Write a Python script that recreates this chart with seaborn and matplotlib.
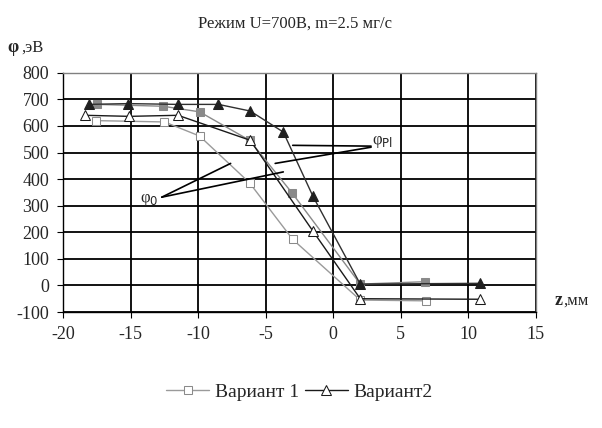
import pandas as pd
import matplotlib
matplotlib.use("Agg")
import matplotlib.pyplot as plt
import seaborn as sns

# values (z in mm, potential in eV)
v1_phi0_z = [-17.6, -12.5, -9.9, -6.2, -3.0, 2.0, 6.9]
v1_phi0 = [620, 615, 562, 386, 173, -55, -58]

v1_phipl_z = [-17.5, -12.6, -9.9, -6.2, -3.05, 2.0, 6.8]
v1_phipl = [681, 674, 653, 546, 348, 5, 14]

v2_phi0_z = [-18.4, -15.1, -11.5, -6.15, -1.5, 2.0, 10.9]
v2_phi0 = [640, 636, 640, 546, 204, -50, -52]

v2_phipl_z = [-18.1, -15.2, -11.5, -8.5, -6.15, -3.7, -1.5, 2.0, 10.9]
v2_phipl = [681, 684, 681, 681, 656, 577, 335, 5, 8]

x_ticks = [-20, -15, -10, -5, 0, 5, 10, 15]
y_ticks = [-100, 0, 100, 200, 300, 400, 500, 600, 700, 800]

sns.set_style("white")
plt.rcParams["font.family"] = ["Liberation Serif", "DejaVu Serif"]
plt.rcParams["axes.unicode_minus"] = False

fig = plt.figure(figsize=(6.02, 4.28), dpi=100)
ax = fig.add_axes([0.105, 0.271, 0.785, 0.559])

# Variant 1, plasma potential (filled grey squares)
sns.lineplot(x=v1_phipl_z, y=v1_phipl, ax=ax, sort=False, color="#8a8a8a", lw=1.0,
             marker="s", markersize=5.5, markerfacecolor="#8a8a8a",
             markeredgecolor="#8a8a8a", label="_nolegend_")
# Variant 2, plasma potential (filled dark triangles)
sns.lineplot(x=v2_phipl_z, y=v2_phipl, ax=ax, sort=False, color="#303030", lw=1.0,
             marker="^", markersize=7, markerfacecolor="#202020",
             markeredgecolor="#202020", label="_nolegend_")
# Variant 1, phi0 (open squares)
sns.lineplot(x=v1_phi0_z, y=v1_phi0, ax=ax, sort=False, color="#9a9a9a", lw=1.0,
             marker="s", markersize=5.5, markerfacecolor="white",
             markeredgecolor="#8a8a8a", label="Вариант 1")
# Variant 2, phi0 (open triangles)
sns.lineplot(x=v2_phi0_z, y=v2_phi0, ax=ax, sort=False, color="#1a1a1a", lw=1.0,
             marker="^", markersize=7, markerfacecolor="white",
             markeredgecolor="#1a1a1a", label="Вариант2")

ax.set_xlim(-20, 15)
ax.set_ylim(-100, 800)
ax.set_xticks(x_ticks)
ax.set_yticks(y_ticks)
ax.grid(True, color="black", lw=1.3)
ax.set_axisbelow(True)
for s in ax.spines.values():
    s.set_color("#808080")
    s.set_linewidth(1.0)
ax.spines["left"].set_color("black")
ax.spines["bottom"].set_color("black")
ax.tick_params(axis="both", labelsize=13, length=4, direction="out",
               left=True, bottom=True, color="black", pad=6)
ax.set_xlabel("")
ax.set_ylabel("")

# pointer lines for the curve names
arrow = dict(arrowstyle="-", color="black", lw=1.2, shrinkA=0, shrinkB=0)
ax.annotate("", xy=(-7.6, 459), xytext=(-12.7, 332), arrowprops=arrow)
ax.annotate("", xy=(-3.7, 427), xytext=(-12.7, 332), arrowprops=arrow)
ax.text(-14.3, 320, "φ$_0$", fontsize=12, va="center")
ax.annotate("", xy=(-3.0, 527), xytext=(2.8, 524), arrowprops=arrow)
ax.annotate("", xy=(-4.3, 459), xytext=(2.8, 520), arrowprops=arrow)
ax.text(2.9, 540, "φ$_{\\rm Pl}$", fontsize=12, va="center")

fig.text(0.49, 0.945, "Режим U=700В, m=2.5 мг/с", ha="center", va="center", fontsize=12)
fig.text(0.012, 0.888, "φ", fontsize=13, fontweight="bold", va="center")
fig.text(0.035, 0.888, ",эВ", fontsize=12, va="center")
fig.text(0.922, 0.298, "z", fontsize=13, fontweight="bold", va="center")
fig.text(0.935, 0.298, ",мм", fontsize=12, va="center")

ax.legend(loc="center", bbox_to_anchor=(0.5, -0.335), ncol=2, frameon=False,
          fontsize=14, handlelength=2.2, columnspacing=0.3, handletextpad=0.3)

fig.savefig("out.png", dpi=100)
